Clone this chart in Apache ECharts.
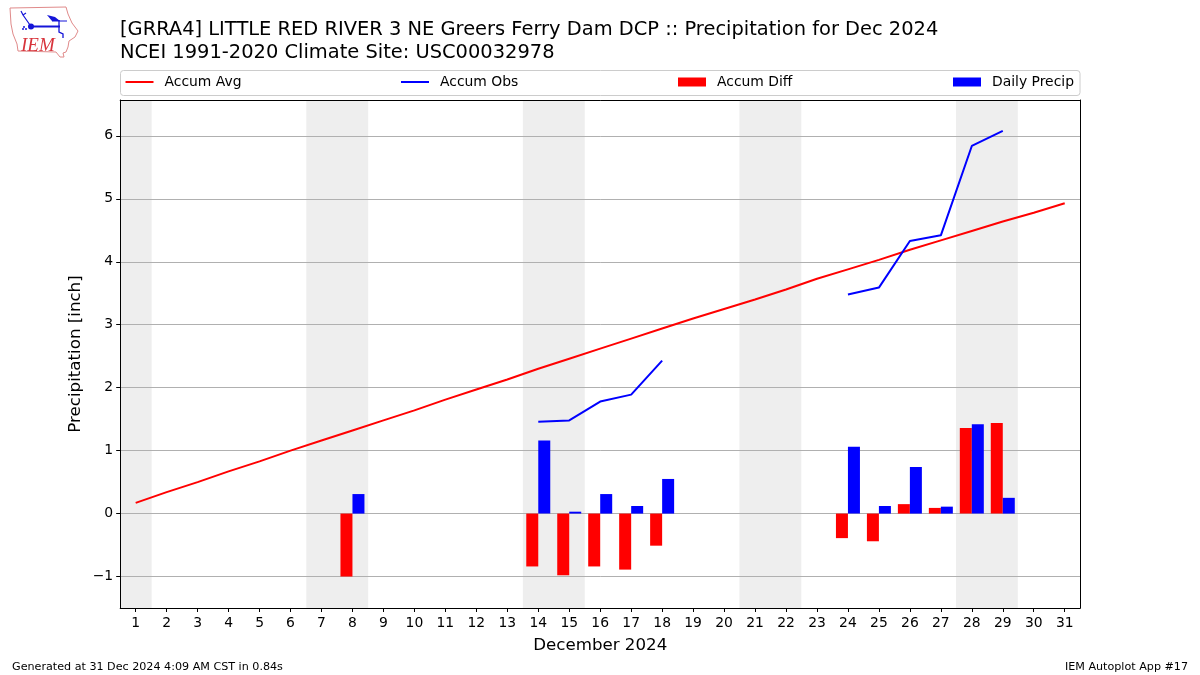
<!DOCTYPE html>
<html><head><meta charset="utf-8">
<script src="https://cdn.jsdelivr.net/npm/echarts@6/dist/echarts.min.js"></script>
<style>html,body{margin:0;padding:0;background:#fff}#c{width:1200px;height:675px}</style>
</head><body><div id="c"></div>
<script>
const days = Array.from({length:31},(_, i)=>String(i+1));
const yTicks = [-1,0,1,2,3,4,5,6];
const accumAvg = [0.17,0.34,0.50,0.67,0.83,1.00,1.16,1.32,1.48,1.64,1.81,1.97,2.13,2.30,2.46,2.62,2.78,2.94,3.10,3.25,3.40,3.56,3.73,3.88,4.03,4.19,4.34,4.49,4.64,4.78,4.93];
const accumObs = [null,null,null,null,null,null,null,null,null,null,null,null,null,1.46,1.48,1.78,1.89,2.43,null,null,null,null,null,3.48,3.59,4.33,4.42,5.84,6.08,null,null];
const accumDiff = [null,null,null,null,null,null,null,-1.00,null,null,null,null,null,-0.84,-0.98,-0.84,-0.89,-0.51,null,null,null,null,null,-0.39,-0.44,0.15,0.09,1.36,1.44,null,null];
const dailyPrecip = [null,null,null,null,null,null,null,0.31,null,null,null,null,null,1.16,0.03,0.31,0.12,0.55,null,null,null,null,null,1.06,0.12,0.74,0.11,1.42,0.25,null,null];
const weekendSpans = [[0.5,1.5],[6.5,8.5],[13.5,15.5],[20.5,22.5],[27.5,29.5]];
const font = 'DejaVu Sans';
const chart = echarts.init(document.getElementById('c'),null,{renderer:'canvas'});
const lg = (name,left,isLine)=>({show:true,data:[name],left,top:75,padding:0,orient:'horizontal',icon:'rect',itemWidth:28,itemHeight:isLine?2:9,
  textStyle:{fontFamily:font,fontSize:13.9,color:'#000',padding:[0,0,0,6]},selectedMode:false});
const logoOutline = [[10,8],[66,7],[68,14],[72,23],[78,31],[75,37],[69,41],[68,47],[66,52],[63,53],[64,57],[60,57],[56,52],[18,51],[17,44],[13,34],[11,24]];
chart.setOption({
  animation:false,
  backgroundColor:'#fff',
  title:[
    {text:'[GRRA4] LITTLE RED RIVER 3 NE Greers Ferry Dam DCP :: Precipitation for Dec 2024\nNCEI 1991-2020 Climate Site: USC00032978',left:120,top:19,padding:0,
      textStyle:{fontFamily:font,fontSize:19.45,fontWeight:'normal',color:'#000',lineHeight:22.5}},
    {text:'Generated at 31 Dec 2024 4:09 AM CST in 0.84s',left:12,top:662,padding:0,textStyle:{fontFamily:font,fontSize:11.15,fontWeight:'normal',color:'#000'}},
    {text:'IEM Autoplot App #17',right:12,top:662,padding:0,textStyle:{fontFamily:font,fontSize:11.15,fontWeight:'normal',color:'#000'}}
  ],
  legend:[lg('Accum Avg',125.5,true),lg('Accum Obs',401,true),lg('Accum Diff',678,false),lg('Daily Precip',953,false)],
  grid:{left:120.2,right:119.8,top:100,bottom:67,show:false,containLabel:false},
  xAxis:[
    {type:'category',data:days,boundaryGap:true,name:'December 2024',nameLocation:'middle',nameGap:29,
     nameTextStyle:{fontFamily:font,fontSize:16.67,color:'#000'},
     axisLine:{show:true,onZero:false,lineStyle:{color:'#000',width:1}},
     axisTick:{show:true,alignWithLabel:true,length:4,lineStyle:{color:'#000'}},
     axisLabel:{interval:0,fontFamily:font,fontSize:13.9,color:'#000',margin:8},splitLine:{show:false},z:3},
    {type:'category',data:days,position:'top',boundaryGap:true,
     axisLine:{show:true,onZero:false,lineStyle:{color:'#000',width:1}},axisTick:{show:false},axisLabel:{show:false},splitLine:{show:false},z:3},
    {type:'value',min:0.484,max:31.516,show:false}
  ],
  yAxis:[
    {type:'value',min:-1.5,max:6.57,name:'Precipitation [inch]',nameLocation:'middle',nameGap:36,nameMoveOverlap:false,
     nameTextStyle:{fontFamily:font,fontSize:16.67,color:'#000'},
     axisLine:{show:true,onZero:false,lineStyle:{color:'#000',width:1}},
     axisTick:{show:true,length:4,lineStyle:{color:'#000'},customValues:yTicks},
     axisLabel:{fontFamily:font,fontSize:13.9,color:'#000',margin:7,padding:[2,0,0,0],customValues:yTicks,formatter:v=>String(v).replace('-','\u2212')},
     splitLine:{show:true,lineStyle:{color:'#b0b0b0',width:1}},z:1},
    {type:'value',min:0,max:1,position:'right',axisLine:{show:true,onZero:false,lineStyle:{color:'#000',width:1}},axisTick:{show:false},axisLabel:{show:false},splitLine:{show:false},z:3}
  ],
  series:[
    {name:'Weekend',type:'line',xAxisIndex:2,yAxisIndex:1,data:[],symbol:'none',silent:true,z:0,
     markArea:{silent:true,z:0,itemStyle:{color:'#eeeeee'},emphasis:{disabled:true},
       data:weekendSpans.map(s=>[{xAxis:s[0],yAxis:0},{xAxis:s[1],yAxis:1}])}},
    {name:'Accum Avg',type:'line',data:accumAvg,symbol:'none',lineStyle:{color:'#ff0000',width:2},itemStyle:{color:'#ff0000'},z:5},
    {name:'Accum Obs',type:'line',data:accumObs,symbol:'none',connectNulls:false,lineStyle:{color:'#0000ff',width:2},itemStyle:{color:'#0000ff'},z:5},
    {name:'Accum Diff',type:'bar',data:accumDiff,barWidth:12,barGap:0,itemStyle:{color:'#ff0000'},z:3},
    {name:'Daily Precip',type:'bar',data:dailyPrecip,barWidth:12,barGap:0,itemStyle:{color:'#0000ff'},z:3}
  ],
  graphic:[
    {type:'rect',shape:{x:120.5,y:70.5,width:959.5,height:25,r:3},style:{fill:'#fff',stroke:'#cccccc',lineWidth:1},z:-1,silent:true},
    {type:'polygon',shape:{points:logoOutline},style:{fill:'#fff',stroke:'#e08a8a',lineWidth:1},silent:true},
    {type:'polyline',shape:{points:[[31,26.5],[60,26.5]]},style:{stroke:'#1515d8',lineWidth:2,fill:null},silent:true},
    {type:'circle',shape:{cx:31,cy:26.5,r:3},style:{fill:'#1515d8'},silent:true},
    {type:'polyline',shape:{points:[[30,25],[23,15],[21,11]]},style:{stroke:'#1515d8',lineWidth:1.2,fill:null},silent:true},
    {type:'polyline',shape:{points:[[23,15],[26,13]]},style:{stroke:'#1515d8',lineWidth:1.2,fill:null},silent:true},
    {type:'polygon',shape:{points:[[47,15],[55,17],[60,21],[52,21]]},style:{fill:'#1515d8'},silent:true},
    {type:'polyline',shape:{points:[[52,21],[67,21]]},style:{stroke:'#1515d8',lineWidth:1,fill:null},silent:true},
    {type:'polyline',shape:{points:[[59,20],[59,32],[63,34],[63,38]]},style:{stroke:'#1515d8',lineWidth:1.3,fill:null},silent:true},
    {type:'circle',shape:{cx:24,cy:27,r:1},style:{fill:'#1515d8'},silent:true},
    {type:'circle',shape:{cx:26,cy:29,r:1},style:{fill:'#1515d8'},silent:true},
    {type:'circle',shape:{cx:23,cy:29,r:1},style:{fill:'#1515d8'},silent:true},
    {type:'text',style:{text:'IEM',x:21,y:36,font:'italic 19px Liberation Serif',fill:'#d8343c'},silent:true}
  ]
});
</script></body></html>
